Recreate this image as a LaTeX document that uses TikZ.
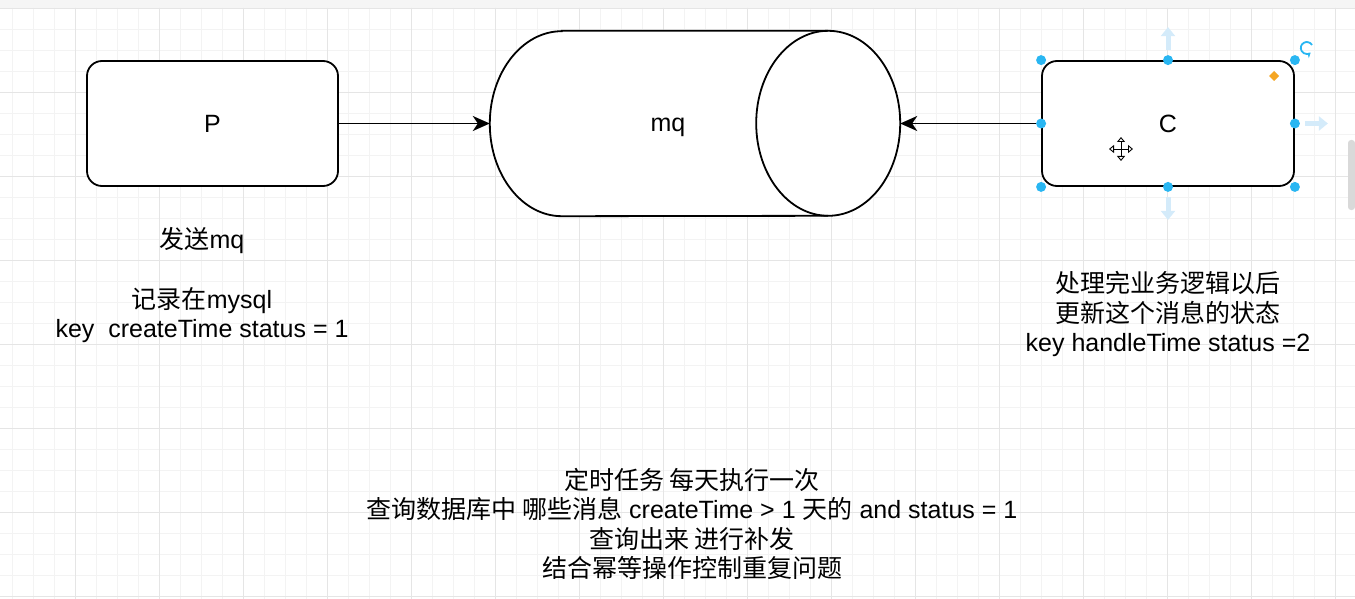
\documentclass[tikz,border=0pt]{standalone}
\usepackage{fontspec}
\setmainfont{Liberation Sans}
\newfontfamily\cjk{Noto Sans CJK SC}
\usepackage{tikz}
\usetikzlibrary{
    arrows.meta,
    calc,
    positioning
}
\definecolor{gridminor}{RGB}{243,243,243}
\definecolor{gridmajor}{RGB}{229,229,229}
\definecolor{handleblue}{RGB}{41,182,242}
\definecolor{hintblue}{RGB}{212,235,250}
\definecolor{handleorange}{RGB}{245,166,35}
\newcommand{\zh}[1]{{\cjk #1}}
\tikzset{
    box/.style={draw, line width=1.8pt, rounded corners=15pt,
        minimum width=251pt, minimum height=125pt, fill=white},
    label/.style={align=center, inner sep=0pt,
        font=\fontsize{25pt}{29.5pt}\selectfont},
    msgarrow/.style={line width=1.8pt,
        -{Stealth[length=17pt, width=15pt, inset=5pt]}},
    handle/.style={circle, fill=handleblue, inner sep=0pt, minimum size=10pt},
    hint/.style={hintblue, line width=5pt, -{Triangle[length=9pt, width=14pt]}}
}

\begin{document}
\begin{tikzpicture}[x=1pt, y=-1pt]
                                    \useasboundingbox (0,0) rectangle (1355,599);
                                    % canvas
                                    \fill[gray!8] (0,0) rectangle (1355,8);
                                    \foreach \gx in {12,33,...,1355}
                                        \draw[gridminor, line width=0.8pt] (\gx,8) -- (\gx,599);
                                    \foreach \gy in {29,50,...,599}
                                        \draw[gridminor, line width=0.8pt] (0,\gy) -- (1355,\gy);
                                    \foreach \gx in {75,159,...,1355}
                                        \draw[gridmajor, line width=0.8pt] (\gx,8) -- (\gx,599);
                                    \foreach \gy in {8,92,...,599}
                                        \draw[gridmajor, line width=0.8pt] (0,\gy) -- (1355,\gy);
                                    \fill[gray!30, rounded corners=3pt] (1348,140) rectangle (1355,210);

                                    \node[box] (p) at (212.5, 123.5) {};
                                    \node[label] at (p.center) {P};
                                    \node[box, minimum width=252pt] (c) at (1168, 123.5) {};
                                    \node[label] at (c.center) {C};
                                    \node[minimum width=410pt, minimum height=185pt, inner sep=0pt] (mq) at (695, 123.5) {};
                                    % queue body
                                    \draw[line width=1.8pt, fill=white]
                                    ([xshift=72pt]mq.north west) -- ([xshift=-72pt]mq.north east)
                                    arc (90:-90:72pt and 92.5pt) -- ([xshift=72pt]mq.south west)
                                    arc (270:90:72pt and 92.5pt) -- cycle;
                                    \draw[line width=1.8pt]
                                    ([xshift=-72pt]mq.north east) arc (90:270:72pt and 92.5pt);
                                    \node[label] at ([xshift=-27pt, yshift=-4pt]mq.center) {mq};

                                    \draw
                                    (p) edge[msgarrow] (mq)
                                    (c) edge[msgarrow] (mq);

                                    % selection of C
                                    \draw[hint] ([yshift=10pt]c.north) -- ([yshift=33pt]c.north);
                                    \draw[hint] ([yshift=-10pt]c.south) -- ([yshift=-33pt]c.south);
                                    \draw[hint] ([xshift=10pt]c.east) -- ([xshift=33pt]c.east);
                                    \foreach \a in {north west, north, north east, west, east, south west, south, south east}
                                        \node[handle] at (c.\a) {};
                                    \fill[handleorange] (1274,71) -- (1279,76) -- (1274,81) -- (1269,76) -- cycle;
                                    \draw[handleblue, line width=1.8pt, -{Stealth[length=5pt, width=6pt]}]
                                    (1312,45) arc (30:310:6pt);
                                    % move cursor
                                    \draw[line width=0.9pt, {Triangle[open, fill=white, length=5pt, width=8pt]}-{Triangle[open, fill=white, length=5pt, width=8pt]}]
                                    (1109,149) -- (1133,149);
                                    \draw[line width=0.9pt, {Triangle[open, fill=white, length=5pt, width=8pt]}-{Triangle[open, fill=white, length=5pt, width=8pt]}]
                                    (1121,137) -- (1121,161);

                                    % notes
                                    \node[label] (send) at (202, 241) {\zh{发送}mq};
                                    \node[label] (record) at (202, 315) {\zh{记录在}mysql\\ key\ \ createTime status = 1};
                                    \node[label] (update) at (1168, 314) {\zh{处理完业务逻辑以后}\\ \zh{更新这个消息的状态}\\ key handleTime status =2};
                                    \node[label] (retry) at (692, 524) {\zh{定时任务 每天执行一次}\\
                                        \zh{查询数据库中 哪些消息} createTime > 1 \zh{天的} and status = 1\\
                                        \zh{查询出来 进行补发}\\
                                        \zh{结合幂等操作控制重复问题}};
                                \end{tikzpicture}
\end{document}
